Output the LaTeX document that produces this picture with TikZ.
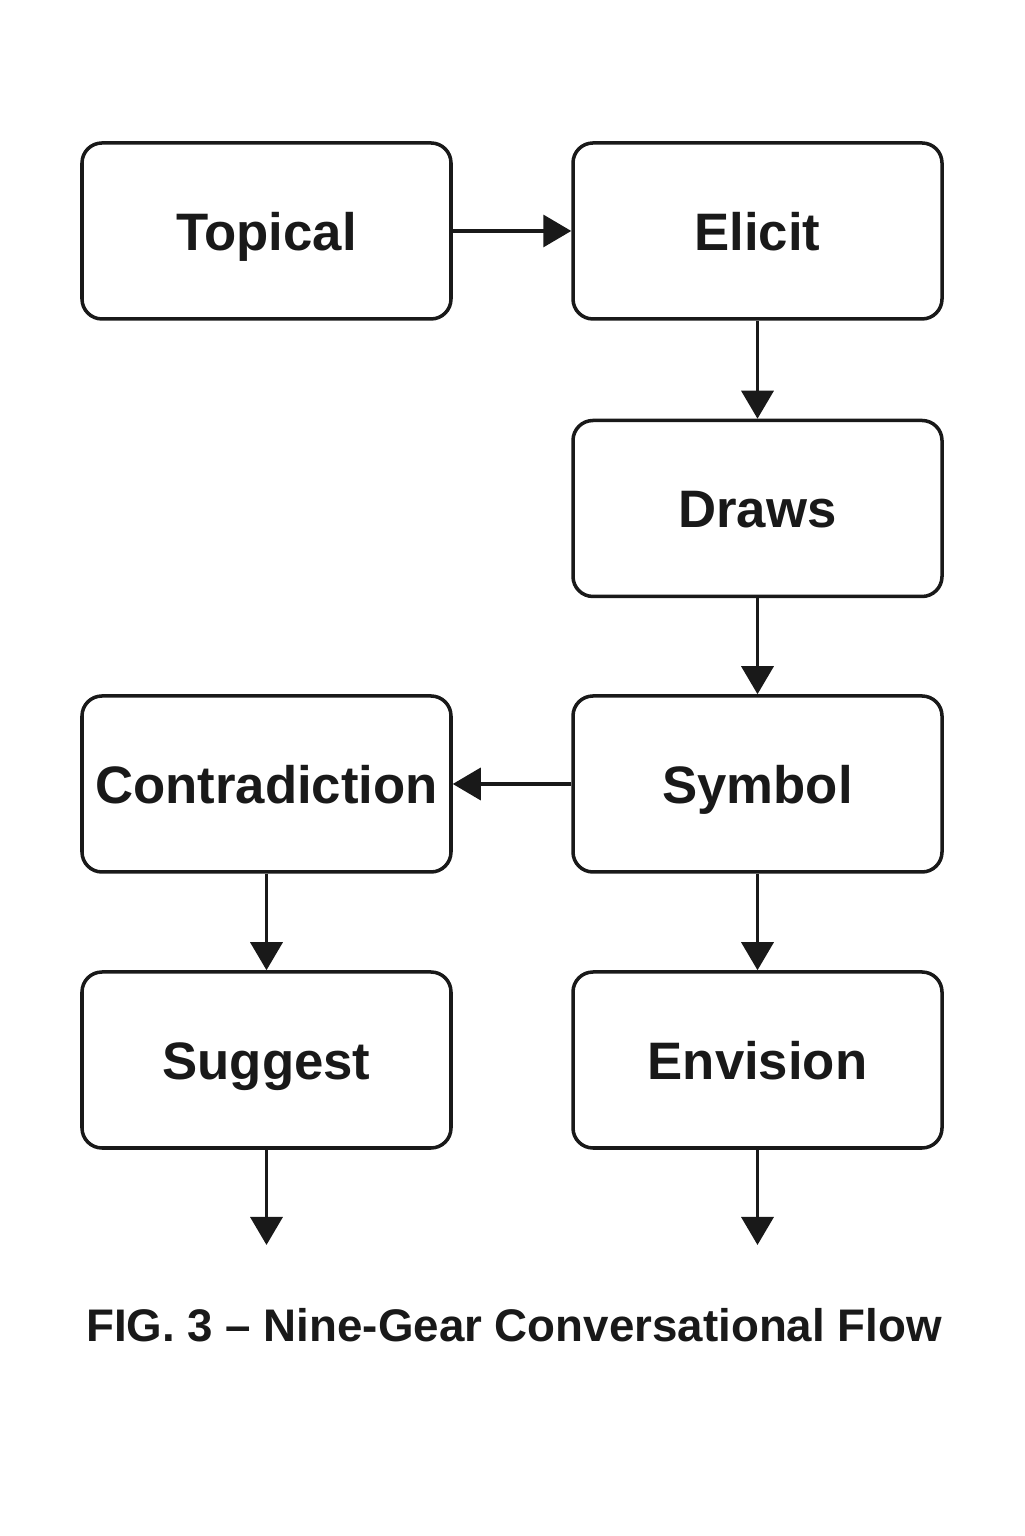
\documentclass[tikz,border=0pt]{standalone}
\usepackage{fontspec}
\setmainfont{Liberation Sans}
\usetikzlibrary{arrows.meta}

\begin{document}
\begin{tikzpicture}[>={Triangle[length=0.28cm, width=0.32cm]}]
        \useasboundingbox[fill=white] (0, 0) rectangle (10.24, 15.36);
        \tikzset{
            gear/.style={draw=black!90, line width=1pt, rounded corners=0.2cm,
                minimum width=3.69cm, minimum height=1.76cm, inner sep=0pt,
                text height=11pt, text depth=0pt,
                font=\fontsize{15}{18}\selectfont\bfseries, text=black!90},
            flow/.style={->, line width=1pt, draw=black!90}
        }

        % --- Colonne de droite ---
        \node[gear] (elicit)   at (7.575, 13.05)  {Elicit};
        \node[gear] (draws)    at (7.575, 10.275) {Draws};
        \node[gear] (symbol)   at (7.575, 7.52)   {Symbol};
        \node[gear] (envision) at (7.575, 4.76)   {Envision};

        % --- Colonne de gauche ---
        \node[gear] (topical)       at (2.665, 13.05) {Topical};
        \node[gear] (contradiction) at (2.665, 7.52)  {Contradiction};
        \node[gear] (suggest)       at (2.665, 4.76)  {Suggest};

        % Sorties libres
        \coordinate (outL) at (2.665, 2.91);
        \coordinate (outR) at (7.575, 2.91);

        % --- Flèches ---
        \draw[flow] (topical) -- (elicit);
        \draw[flow] (elicit) -- (draws);
        \draw[flow] (draws) -- (symbol);
        \draw[flow] (symbol) -- (contradiction);
        \draw[flow] (symbol) -- (envision);
        \draw[flow] (contradiction) -- (suggest);
        \draw[flow] (suggest) -- (outL);
        \draw[flow] (envision) -- (outR);

        % --- Légende ---
        \node[font=\fontsize{13}{16}\selectfont\bfseries, text=black!90] (caption)
            at (5.14, 2.11) {FIG. 3 -- Nine-Gear Conversational Flow};
    \end{tikzpicture}
\end{document}
